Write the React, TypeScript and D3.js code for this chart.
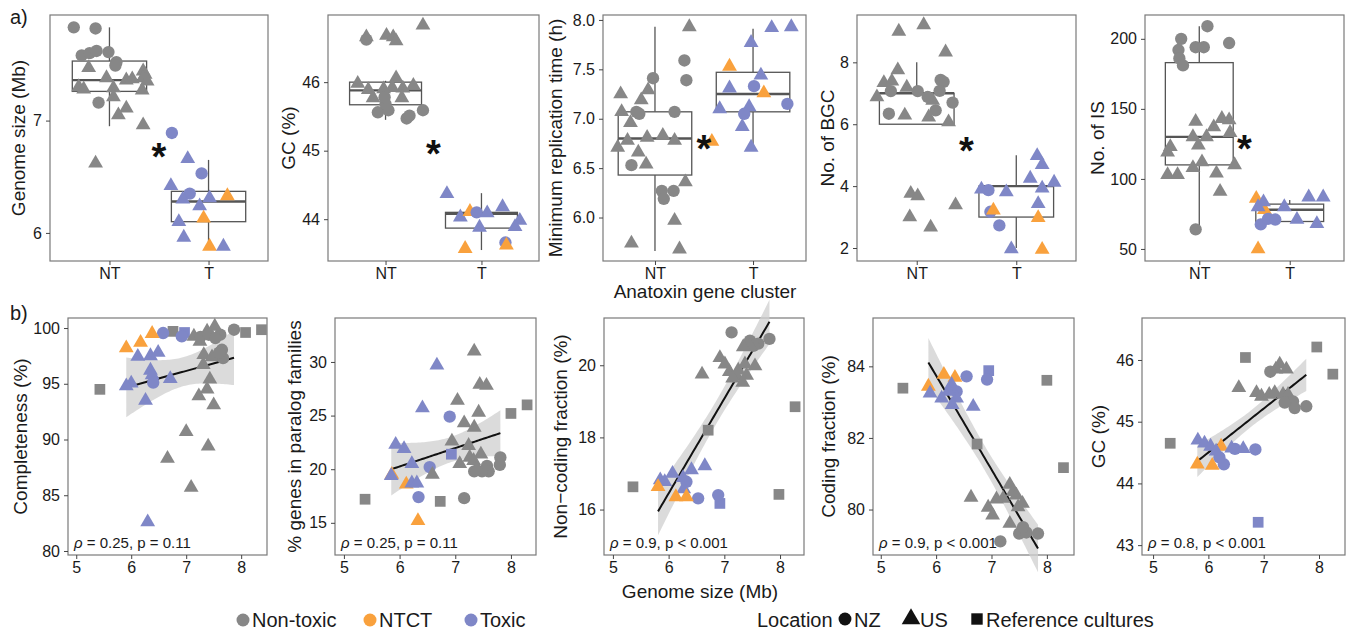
import React, { useEffect, useRef } from "react";
import * as d3 from "d3";

// colour keys: N = Non-toxic, C = NTCT, T = Toxic ; shapes: c = NZ, t = US, s = reference cultures
const COLORS: Record<string, string> = { N: "#878787", C: "#F9A13D", T: "#7F87C7" };
const categories = ["NT", "T"];

// top row points: [category index, colour, shape, jitter, value]
type BoxPt = [number, string, string, number, number];
// box stats: [lower whisker, q1, median, q3, upper whisker]
type Box = number[];

const genomeSizePts: BoxPt[] = [
  [0, "N", "c", -0.36, 7.83], [0, "N", "c", -0.14, 7.82], [0, "N", "c", -0.28, 7.58], [0, "N", "c", -0.2, 7.6],
  [0, "N", "c", -0.13, 7.62], [0, "N", "c", -0.01, 7.61], [0, "N", "c", 0.07, 7.52], [0, "N", "c", 0.06, 7.49],
  [0, "N", "t", -0.21, 7.47], [0, "N", "t", 0.34, 7.44], [0, "N", "t", 0.36, 7.41], [0, "N", "t", 0.34, 7.38],
  [0, "N", "t", 0.38, 7.35], [0, "N", "t", -0.03, 7.38], [0, "N", "t", 0.17, 7.36], [0, "N", "t", 0.23, 7.37],
  [0, "N", "t", -0.31, 7.3], [0, "N", "t", -0.26, 7.28], [0, "N", "t", 0.04, 7.29], [0, "N", "t", 0.33, 7.27],
  [0, "N", "t", 0.04, 7.21], [0, "N", "c", -0.11, 7.16], [0, "N", "t", 0.17, 7.11], [0, "N", "t", 0.09, 7.05],
  [0, "N", "t", 0.34, 6.96], [0, "N", "t", -0.14, 6.62],
  [1, "T", "c", -0.37, 6.89], [1, "T", "t", -0.21, 6.66], [1, "T", "c", -0.07, 6.53], [1, "T", "t", -0.38, 6.42],
  [1, "T", "c", -0.19, 6.35], [1, "T", "t", -0.26, 6.3], [1, "T", "t", 0.01, 6.31], [1, "C", "t", 0.19, 6.33],
  [1, "T", "t", -0.09, 6.24], [1, "C", "t", -0.05, 6.13], [1, "T", "t", -0.3, 6.1], [1, "T", "t", -0.25, 5.96],
  [1, "C", "t", 0.01, 5.88], [1, "T", "t", 0.15, 5.88],
];
const genomeSizeBox: Box[] = [[6.95, 7.26, 7.36, 7.53, 7.83], [5.86, 6.1, 6.28, 6.37, 6.65]];

const gcTopPts: BoxPt[] = [
  [0, "N", "c", -0.2, 46.62], [0, "N", "t", -0.2, 46.66], [0, "N", "t", 0.01, 46.68], [0, "N", "t", 0.08, 46.66],
  [0, "N", "t", 0.11, 46.6], [0, "N", "t", 0.39, 46.83], [0, "N", "t", -0.29, 45.98], [0, "N", "t", -0.18, 45.89],
  [0, "N", "t", 0.11, 46.06], [0, "N", "t", 0.18, 45.91], [0, "N", "t", 0.29, 45.95], [0, "N", "t", 0.07, 45.92],
  [0, "N", "t", -0.02, 45.9], [0, "N", "t", -0.13, 45.77], [0, "N", "t", 0.17, 45.77], [0, "N", "c", -0.08, 45.56],
  [0, "N", "c", 0.03, 45.59], [0, "N", "c", 0.0, 45.68], [0, "N", "c", 0.22, 45.47], [0, "N", "c", 0.25, 45.51],
  [0, "N", "c", 0.39, 45.59], [0, "N", "c", -0.01, 45.78],
  [1, "T", "t", -0.36, 44.37], [1, "T", "t", -0.22, 44.03], [1, "C", "t", -0.12, 44.11], [1, "T", "c", -0.05, 44.1],
  [1, "T", "t", 0.06, 44.09], [1, "T", "t", 0.22, 44.18], [1, "T", "t", 0.4, 43.98], [1, "T", "t", 0.35, 43.89],
  [1, "T", "t", -0.02, 43.88], [1, "T", "c", 0.25, 43.66], [1, "C", "t", 0.26, 43.62], [1, "C", "t", -0.17, 43.57],
];
const gcTopBox: Box[] = [[45.45, 45.67, 45.88, 46.0, 46.02], [43.55, 43.87, 44.08, 44.1, 44.38]];

const replicationPts: BoxPt[] = [
  [0, "N", "t", -0.35, 7.25], [0, "N", "t", -0.07, 7.29], [0, "N", "t", -0.14, 7.19], [0, "N", "c", -0.02, 7.41],
  [0, "N", "c", 0.3, 7.59], [0, "N", "c", 0.32, 7.39], [0, "N", "t", 0.35, 7.93], [0, "N", "t", -0.34, 7.07],
  [0, "N", "c", -0.19, 7.07], [0, "N", "c", -0.16, 7.05], [0, "N", "t", -0.25, 6.96], [0, "N", "t", -0.08, 6.81],
  [0, "N", "t", 0.08, 6.83], [0, "N", "c", 0.2, 7.07], [0, "N", "t", 0.2, 6.78], [0, "N", "t", -0.38, 6.71],
  [0, "N", "t", -0.28, 6.78], [0, "N", "t", -0.17, 6.66], [0, "N", "t", -0.09, 6.54], [0, "N", "c", -0.24, 6.53],
  [0, "N", "c", 0.07, 6.27], [0, "N", "c", 0.09, 6.19], [0, "N", "c", 0.19, 6.27], [0, "N", "t", 0.31, 6.36],
  [0, "N", "t", 0.2, 5.97], [0, "N", "t", -0.24, 5.74], [0, "N", "t", 0.25, 5.68],
  [1, "T", "t", 0.19, 7.92], [1, "T", "t", 0.39, 7.93], [1, "T", "t", -0.02, 7.77], [1, "C", "t", -0.24, 7.53],
  [1, "T", "t", -0.24, 7.31], [1, "T", "t", 0.08, 7.44], [1, "T", "c", 0.01, 7.33], [1, "C", "t", 0.11, 7.26],
  [1, "T", "t", -0.34, 7.1], [1, "T", "t", -0.04, 7.12], [1, "T", "c", -0.09, 7.05], [1, "T", "t", -0.11, 6.92],
  [1, "T", "t", -0.02, 6.71], [1, "T", "c", 0.35, 7.15], [1, "C", "t", -0.42, 6.77],
];
const replicationBox: Box[] = [[5.66, 6.43, 6.8, 7.07, 7.93], [6.72, 7.07, 7.25, 7.47, 7.91]];

const bgcPts: BoxPt[] = [
  [0, "N", "t", -0.18, 9.0], [0, "N", "t", 0.07, 9.21], [0, "N", "t", 0.29, 8.33], [0, "N", "t", -0.19, 7.75],
  [0, "N", "t", -0.33, 7.34], [0, "N", "t", -0.25, 7.39], [0, "N", "t", -0.4, 6.88], [0, "N", "t", -0.1, 7.19],
  [0, "N", "t", 0.16, 6.77], [0, "N", "t", -0.12, 6.29], [0, "N", "t", 0.12, 6.23], [0, "N", "t", 0.32, 6.07],
  [0, "N", "c", 0.24, 7.43], [0, "N", "c", 0.27, 7.37], [0, "N", "c", -0.26, 7.07], [0, "N", "c", 0.01, 7.07],
  [0, "N", "c", 0.11, 6.88], [0, "N", "c", 0.23, 7.08], [0, "N", "c", 0.19, 6.45], [0, "N", "c", 0.36, 6.7],
  [0, "N", "c", -0.28, 6.34], [0, "N", "t", -0.06, 3.76], [0, "N", "t", 0.01, 3.68], [0, "N", "t", -0.07, 3.0],
  [0, "N", "t", 0.14, 2.67], [0, "N", "t", 0.39, 3.39],
  [1, "T", "t", 0.21, 4.98], [1, "T", "t", 0.26, 4.69], [1, "T", "t", 0.14, 4.25], [1, "T", "t", 0.38, 4.12],
  [1, "T", "t", 0.26, 3.93], [1, "T", "t", -0.35, 3.9], [1, "T", "t", -0.1, 3.81], [1, "T", "t", 0.22, 3.43],
  [1, "T", "t", -0.05, 1.97], [1, "T", "c", -0.28, 3.87], [1, "T", "c", -0.26, 3.17], [1, "T", "c", -0.17, 2.73],
  [1, "C", "t", -0.23, 3.22], [1, "C", "t", 0.22, 2.98], [1, "C", "t", 0.26, 1.95],
];
const bgcBox: Box[] = [[6.0, 6.0, 7.0, 7.0, 8.0], [2.0, 3.0, 4.0, 4.0, 5.0]];

const isPts: BoxPt[] = [
  [0, "N", "c", 0.09, 209], [0, "N", "c", -0.2, 200], [0, "N", "c", -0.23, 192], [0, "N", "c", -0.22, 186],
  [0, "N", "c", -0.18, 181], [0, "N", "c", -0.04, 194], [0, "N", "c", 0.05, 194], [0, "N", "c", 0.33, 197],
  [0, "N", "c", -0.04, 64], [0, "N", "t", -0.04, 141], [0, "N", "t", 0.25, 143], [0, "N", "t", 0.33, 142],
  [0, "N", "t", 0.16, 137], [0, "N", "t", 0.34, 133], [0, "N", "t", -0.07, 130], [0, "N", "t", 0.08, 130],
  [0, "N", "t", -0.01, 124], [0, "N", "t", -0.32, 123], [0, "N", "t", -0.35, 119], [0, "N", "t", 0.03, 112],
  [0, "N", "t", -0.07, 108], [0, "N", "t", 0.39, 110], [0, "N", "t", -0.35, 103], [0, "N", "t", -0.24, 103],
  [0, "N", "t", 0.19, 104], [0, "N", "t", 0.23, 91],
  [1, "C", "t", -0.37, 86], [1, "C", "t", -0.28, 78], [1, "T", "t", -0.29, 83.5], [1, "T", "t", -0.35, 80],
  [1, "T", "t", -0.06, 80], [1, "T", "t", 0.21, 87], [1, "T", "t", 0.37, 87], [1, "T", "t", 0.08, 71],
  [1, "T", "t", 0.3, 68], [1, "T", "c", -0.32, 67.5], [1, "T", "c", -0.24, 71.5], [1, "T", "c", -0.16, 71],
  [1, "C", "t", -0.35, 50],
];
const isBox: Box[] = [[64, 110, 130, 183, 209], [69.6, 69.6, 78, 82, 85]];

// bottom row points: [colour, shape, genome size (Mb), value]
type ScPt = [string, string, number, number];

const completenessPts: ScPt[] = [
  ["N", "s", 5.43, 94.5], ["N", "s", 6.76, 99.7], ["N", "s", 8.08, 99.6], ["N", "s", 8.37, 99.85],
  ["T", "s", 6.97, 99.6], ["T", "c", 6.58, 99.55], ["T", "c", 6.92, 99.25],
  ["C", "t", 5.91, 98.2], ["C", "t", 6.17, 98.7], ["C", "t", 6.38, 99.5],
  ["T", "t", 6.12, 97.45], ["T", "t", 6.35, 97.5], ["T", "t", 6.49, 97.8], ["T", "t", 6.35, 96.2],
  ["T", "t", 6.38, 95.8], ["T", "c", 6.4, 95.1], ["T", "t", 6.0, 95.05], ["T", "t", 5.91, 94.8],
  ["T", "t", 6.71, 95.45], ["T", "t", 6.26, 93.5], ["T", "t", 6.3, 82.6],
  ["N", "t", 7.14, 99.25], ["N", "t", 7.25, 98.8], ["N", "t", 7.38, 99.7], ["N", "t", 7.52, 100.15],
  ["N", "t", 7.32, 97.6], ["N", "t", 7.31, 96.7], ["N", "t", 7.47, 97.4], ["N", "t", 7.43, 95.4],
  ["N", "t", 7.38, 94.5], ["N", "t", 7.23, 93.9], ["N", "t", 7.5, 93.1], ["N", "t", 7.0, 90.7],
  ["N", "t", 7.4, 89.4], ["N", "t", 6.66, 88.3], ["N", "t", 7.09, 85.7],
  ["N", "c", 7.26, 99.2], ["N", "c", 7.41, 99.4], ["N", "c", 7.62, 99.4], ["N", "c", 7.53, 99.1],
  ["N", "c", 7.65, 98.05], ["N", "c", 7.67, 97.3], ["N", "c", 7.87, 99.85], ["N", "c", 7.6, 97.8],
];

const paralogPts: ScPt[] = [
  ["N", "s", 5.38, 17.2], ["N", "s", 6.73, 17.0], ["N", "s", 8.0, 25.2], ["N", "s", 8.29, 26.0],
  ["T", "s", 6.93, 21.4], ["T", "c", 6.9, 24.9], ["T", "c", 6.54, 20.2], ["T", "c", 6.34, 17.4],
  ["N", "c", 7.16, 17.3], ["N", "c", 7.81, 21.1], ["N", "c", 7.8, 20.4], ["N", "c", 7.57, 20.3],
  ["N", "c", 7.6, 19.8], ["N", "c", 7.48, 19.8], ["N", "c", 7.34, 19.8],
  ["C", "t", 5.86, 19.5], ["C", "t", 6.12, 18.6], ["C", "t", 6.33, 15.2],
  ["T", "t", 6.67, 29.7], ["T", "t", 6.41, 25.7], ["T", "t", 5.93, 22.3], ["T", "t", 6.08, 21.9],
  ["T", "t", 6.22, 20.5], ["T", "t", 5.85, 19.4], ["T", "t", 6.22, 18.7], ["T", "t", 6.31, 18.7],
  ["N", "t", 7.34, 31.0], ["N", "t", 7.44, 27.9], ["N", "t", 7.56, 27.8], ["N", "t", 7.04, 26.4],
  ["N", "t", 7.42, 25.3], ["N", "t", 7.16, 24.3], ["N", "t", 7.34, 23.9], ["N", "t", 6.94, 22.6],
  ["N", "t", 7.24, 22.2], ["N", "t", 7.46, 21.4], ["N", "t", 7.26, 21.1], ["N", "t", 7.33, 20.8],
  ["N", "t", 7.08, 20.5], ["N", "t", 6.59, 19.5], ["N", "t", 7.39, 20.1],
];

const nonCodingPts: ScPt[] = [
  ["N", "s", 5.36, 16.63], ["N", "s", 6.71, 18.2], ["N", "s", 7.98, 16.42], ["N", "s", 8.27, 18.85],
  ["T", "s", 6.92, 16.17], ["T", "c", 6.89, 16.4], ["T", "c", 6.53, 16.31], ["T", "c", 6.32, 16.77],
  ["N", "c", 7.13, 20.91], ["N", "c", 7.46, 20.68], ["N", "c", 7.61, 20.6], ["N", "c", 7.81, 20.73],
  ["N", "c", 7.52, 20.54],
  ["N", "t", 6.6, 19.75], ["N", "t", 6.92, 20.21], ["N", "t", 7.01, 20.03], ["N", "t", 7.09, 19.82],
  ["N", "t", 7.22, 19.7], ["N", "t", 7.33, 19.52], ["N", "t", 7.25, 19.86], ["N", "t", 7.4, 19.72],
  ["N", "t", 7.55, 19.98], ["N", "t", 7.46, 20.54], ["N", "t", 7.34, 20.51], ["N", "t", 7.37, 20.03],
  ["N", "t", 7.15, 19.64],
  ["T", "t", 5.85, 16.82], ["T", "t", 5.93, 16.77], ["T", "t", 6.07, 17.0], ["T", "t", 6.26, 16.88],
  ["T", "t", 6.41, 17.1], ["T", "t", 6.65, 17.21], ["T", "t", 6.27, 16.57],
  ["C", "t", 5.81, 16.63], ["C", "t", 6.13, 16.35], ["C", "t", 6.32, 16.35],
];

const codingPts: ScPt[] = [
  ["N", "s", 5.4, 83.39], ["N", "s", 6.74, 81.83], ["N", "s", 8.0, 83.61], ["N", "s", 8.3, 81.17],
  ["T", "s", 6.95, 83.88], ["T", "c", 6.92, 83.63], ["T", "c", 6.55, 83.72], ["T", "c", 6.37, 83.3],
  ["C", "t", 5.86, 83.44], ["C", "t", 6.14, 83.77], ["C", "t", 6.34, 83.69],
  ["T", "t", 5.89, 83.25], ["T", "t", 6.1, 83.11], ["T", "t", 6.28, 83.49], ["T", "t", 6.37, 83.11],
  ["T", "t", 6.67, 82.88], ["T", "t", 6.22, 83.3], ["T", "t", 6.29, 82.93],
  ["N", "t", 6.63, 80.34], ["N", "t", 6.94, 80.06], ["N", "t", 7.02, 79.84], ["N", "t", 7.33, 80.7],
  ["N", "t", 7.39, 80.5], ["N", "t", 7.45, 80.4], ["N", "t", 7.48, 80.07], ["N", "t", 7.56, 80.17],
  ["N", "t", 7.33, 79.61], ["N", "t", 7.21, 80.31], ["N", "t", 7.09, 80.29],
  ["N", "c", 7.16, 79.11], ["N", "c", 7.5, 79.33], ["N", "c", 7.63, 79.36], ["N", "c", 7.84, 79.33],
  ["N", "c", 7.57, 79.51],
];

const gcBottomPts: ScPt[] = [
  ["N", "s", 5.31, 44.65], ["N", "s", 6.67, 46.04], ["N", "s", 7.96, 46.21], ["N", "s", 8.25, 45.77],
  ["T", "s", 6.9, 43.37], ["T", "c", 6.85, 44.55], ["T", "c", 6.48, 44.56], ["T", "c", 6.28, 44.31],
  ["T", "c", 6.2, 44.42],
  ["C", "t", 5.8, 44.31], ["C", "t", 6.07, 44.29], ["C", "t", 6.23, 44.6],
  ["T", "t", 5.81, 44.7], ["T", "t", 5.93, 44.65], ["T", "t", 6.04, 44.6], ["T", "t", 6.42, 44.57],
  ["T", "t", 6.63, 44.56], ["T", "t", 6.14, 44.52],
  ["N", "t", 6.55, 45.55], ["N", "t", 6.87, 45.47], ["N", "t", 6.96, 45.41], ["N", "t", 7.1, 45.44],
  ["N", "t", 7.29, 45.93], ["N", "t", 7.41, 45.85], ["N", "t", 7.22, 45.85], ["N", "t", 7.2, 45.47],
  ["N", "t", 7.35, 45.44], ["N", "t", 7.44, 45.44],
  ["N", "c", 7.12, 45.81], ["N", "c", 7.53, 45.33], ["N", "c", 7.56, 45.22], ["N", "c", 7.77, 45.25],
  ["N", "c", 7.38, 45.31],
];

const corrLabels = [["0.25", "= 0.11"], ["0.25", "= 0.11"], ["0.9", "< 0.001"], ["0.9", "< 0.001"], ["0.8", "< 0.001"]];
const genomeTicks = [5, 6, 7, 8];
const legendColour = [["N", "Non-toxic"], ["C", "NTCT"], ["T", "Toxic"]];
const legendShape = [["c", "NZ"], ["t", "US"], ["s", "Reference cultures"]];

const W = 1350;
const H = 633;
const FONT = "'Liberation Sans', Arial, Helvetica, sans-serif";

const topPanels = [
  { title: "Genome size (Mb)", pts: genomeSizePts, box: genomeSizeBox, y: [5.75, 7.94], ticks: [6, 7], fmt: "d", sig: 6.75, x0: 50, x1: 268, tx: 18, xd: [0.4, 2.6] },
  { title: "GC (%)", pts: gcTopPts, box: gcTopBox, y: [43.39, 46.98], ticks: [44, 45, 46], fmt: "d", sig: 45.07, x0: 328, x1: 539, tx: 288, xd: [0.4, 2.6] },
  { title: "Minimum replication time (h)", pts: replicationPts, box: replicationBox, y: [5.56, 8.05], ticks: [6, 6.5, 7, 7.5, 8], fmt: ".1f", sig: 6.77, x0: 603, x1: 806, tx: 555, xd: [0.47, 2.54] },
  { title: "No. of BGC", pts: bgcPts, box: bgcBox, y: [1.58, 9.53], ticks: [2, 4, 6, 8], fmt: "d", sig: 5.4, x0: 857, x1: 1076, tx: 827, xd: [0.4, 2.6] },
  { title: "No. of IS", pts: isPts, box: isBox, y: [41.4, 217], ticks: [50, 100, 150, 200], fmt: "d", sig: 127, x0: 1145, x1: 1344, tx: 1097, xd: [0.4, 2.6] },
];

const bottomPanels = [
  { title: "Completeness (%)", pts: completenessPts, y: [79.64, 100.9], ticks: [80, 85, 90, 95, 100], x: [4.85, 8.47], x0: 68, x1: 267, tx: 20 },
  { title: "% genes in paralog families", pts: paralogPts, y: [12.0, 34.1], ticks: [15, 20, 25, 30], x: [4.84, 8.45], x0: 335, x1: 536, tx: 294 },
  { title: "Non\u2212coding fraction (%)", pts: nonCodingPts, y: [14.74, 21.31], ticks: [16, 18, 20], x: [4.84, 8.43], x0: 604, x1: 804, tx: 560 },
  { title: "Coding fraction (%)", pts: codingPts, y: [78.73, 85.35], ticks: [80, 82, 84], x: [4.86, 8.49], x0: 873, x1: 1074, tx: 828 },
  { title: "GC (%)", pts: gcBottomPts, y: [42.84, 46.68], ticks: [43, 44, 45, 46], x: [4.8, 8.47], x0: 1142, x1: 1345, tx: 1098 },
];

const symbolFor = (s: string) => (s === "c" ? d3.symbolCircle : s === "t" ? d3.symbolTriangle : d3.symbolSquare);
const sizeFor = (s: string) => (s === "c" ? 120 : s === "t" ? 95 : 115);

// least squares fit with 95% confidence band (reference cultures excluded)
function fitLine(pts: ScPt[]) {
  const p = pts.filter(d => d[1] !== "s");
  const n = p.length;
  const mx = d3.mean(p, d => d[2])!;
  const my = d3.mean(p, d => d[3])!;
  const sxx = d3.sum(p, d => (d[2] - mx) ** 2);
  const sxy = d3.sum(p, d => (d[2] - mx) * (d[3] - my));
  const b = sxy / sxx;
  const a = my - b * mx;
  const s = Math.sqrt(d3.sum(p, d => (d[3] - a - b * d[2]) ** 2) / (n - 2));
  const t = 1.96 + 2.5 / (n - 2);
  const [lo, hi] = d3.extent(p, d => d[2]) as [number, number];
  return d3.range(61).map(i => {
    const x = lo + ((hi - lo) * i) / 60;
    const se = s * Math.sqrt(1 / n + (x - mx) ** 2 / sxx);
    const y = a + b * x;
    return { x, y, y0: y - t * se, y1: y + t * se };
  });
}

function styleAxis(g: any) {
  g.select(".domain").remove();
  g.selectAll(".tick line").attr("stroke", "#444").attr("stroke-width", 1);
  g.selectAll(".tick text").attr("fill", "#1a1a1a").attr("font-size", 16).attr("font-family", FONT);
}

export default function App() {
  const ref = useRef<SVGSVGElement>(null);

  useEffect(() => {
    const svg = d3.select(ref.current);
    svg.selectAll("*").remove();

    const T0 = 15, T1 = 261;
    topPanels.forEach(p => {
      const x = d3.scaleLinear().domain(p.xd).range([p.x0, p.x1]);
      const y = d3.scaleLinear().domain(p.y).range([T1, T0]);
      const g = svg.append("g");
      g.append("rect").attr("x", p.x0).attr("y", T0).attr("width", p.x1 - p.x0).attr("height", T1 - T0)
        .attr("fill", "none").attr("stroke", "#7a7a7a").attr("stroke-width", 1.2);

      const yAx = g.append("g").attr("transform", `translate(${p.x0},0)`)
        .call(d3.axisLeft(y).tickValues(p.ticks).tickSize(4).tickPadding(4).tickFormat(d3.format(p.fmt)));
      styleAxis(yAx);
      const xAx = g.append("g").attr("transform", `translate(0,${T1})`)
        .call(d3.axisBottom(x).tickValues([1, 2]).tickSize(4).tickPadding(3).tickFormat((d: any) => categories[d - 1]));
      styleAxis(xAx);

      const bw = 0.375 * (x(2) - x(1));
      p.box.forEach((b, i) => {
        const cx = x(i + 1);
        const bg = g.append("g").attr("stroke", "#555").attr("fill", "none");
        bg.append("line").attr("x1", cx).attr("x2", cx).attr("y1", y(b[4])).attr("y2", y(b[3])).attr("stroke-width", 1.3);
        bg.append("line").attr("x1", cx).attr("x2", cx).attr("y1", y(b[1])).attr("y2", y(b[0])).attr("stroke-width", 1.3);
        bg.append("rect").attr("x", cx - bw).attr("width", 2 * bw).attr("y", y(b[3])).attr("height", y(b[1]) - y(b[3]))
          .attr("fill", "#fff").attr("stroke-width", 1.3);
        bg.append("line").attr("x1", cx - bw).attr("x2", cx + bw).attr("y1", y(b[2])).attr("y2", y(b[2])).attr("stroke-width", 2.4);
      });

      g.selectAll(".pt").data(p.pts).enter().append("path")
        .attr("d", d => d3.symbol().type(symbolFor(d[2])).size(sizeFor(d[2]))()!)
        .attr("transform", d => `translate(${x(d[0] + 1 + d[3])},${y(d[4])})`)
        .attr("fill", d => COLORS[d[1]]);

      g.append("text").attr("x", x(1.5)).attr("y", y(p.sig) + 21).attr("text-anchor", "middle")
        .attr("font-family", FONT).attr("font-weight", "bold").attr("font-size", 38).attr("fill", "#111").text("*");

      g.append("text").attr("transform", `translate(${p.tx},${(T0 + T1) / 2}) rotate(-90)`).attr("dy", "0.35em")
        .attr("text-anchor", "middle").attr("font-family", FONT).attr("font-size", 19).attr("fill", "#1a1a1a").text(p.title);
    });

    const B0 = 318, B1 = 555;
    bottomPanels.forEach((p, k) => {
      const x = d3.scaleLinear().domain(p.x).range([p.x0, p.x1]);
      const y = d3.scaleLinear().domain(p.y).range([B1, B0]);
      const g = svg.append("g");
      g.append("rect").attr("x", p.x0).attr("y", B0).attr("width", p.x1 - p.x0).attr("height", B1 - B0)
        .attr("fill", "none").attr("stroke", "#7a7a7a").attr("stroke-width", 1.2);

      const yAx = g.append("g").attr("transform", `translate(${p.x0},0)`)
        .call(d3.axisLeft(y).tickValues(p.ticks).tickSize(4).tickPadding(4).tickFormat(d3.format("d")));
      styleAxis(yAx);
      const xAx = g.append("g").attr("transform", `translate(0,${B1})`)
        .call(d3.axisBottom(x).tickValues(genomeTicks).tickSize(4).tickPadding(3).tickFormat(d3.format("d")));
      styleAxis(xAx);

      const fit = fitLine(p.pts);
      g.append("path").datum(fit).attr("fill", "#cfcfcf").attr("opacity", 0.75)
        .attr("d", d3.area<any>().x(d => x(d.x)).y0(d => y(d.y0)).y1(d => y(d.y1)));
      g.append("path").datum(fit).attr("fill", "none").attr("stroke", "#111").attr("stroke-width", 2)
        .attr("d", d3.line<any>().x(d => x(d.x)).y(d => y(d.y)));

      g.selectAll(".pt").data(p.pts).enter().append("path")
        .attr("d", d => d3.symbol().type(symbolFor(d[1])).size(sizeFor(d[1]))()!)
        .attr("transform", d => `translate(${x(d[2])},${y(d[3])})`)
        .attr("fill", d => COLORS[d[0]]);

      const lab = g.append("text").attr("x", p.x0 + 6).attr("y", B1 - 7)
        .attr("font-family", FONT).attr("font-size", 15).attr("fill", "#1a1a1a");
      lab.append("tspan").attr("font-style", "italic").text("\u03c1");
      lab.append("tspan").text(` = ${corrLabels[k][0]}, p ${corrLabels[k][1]}`);

      g.append("text").attr("transform", `translate(${p.tx},${(B0 + B1) / 2}) rotate(-90)`).attr("dy", "0.35em")
        .attr("text-anchor", "middle").attr("font-family", FONT).attr("font-size", 19).attr("fill", "#1a1a1a").text(p.title);
    });

    const txt = (x: number, y: number, s: string, size = 19, anchor = "middle") =>
      svg.append("text").attr("x", x).attr("y", y).attr("text-anchor", anchor).attr("font-family", FONT)
        .attr("font-size", size).attr("fill", "#1a1a1a").text(s);

    txt(705, 298, "Anatoxin gene cluster");
    txt(700, 598, "Genome size (Mb)");
    txt(10, 24, "a)", 20, "start");
    txt(10, 320, "b)", 20, "start");

    // legend
    const LY = 620;
    const cx = [243, 370, 471];
    legendColour.forEach((d, i) => {
      svg.append("circle").attr("cx", cx[i]).attr("cy", LY).attr("r", 6.5).attr("fill", COLORS[d[0]]);
      txt(cx[i] + 9, LY + 7, d[1], 20, "start");
    });
    txt(757, LY + 7, "Location", 20, "start");
    const sx = [845, 911, 977];
    legendShape.forEach((d, i) => {
      svg.append("path").attr("d", d3.symbol().type(symbolFor(d[0])).size(d[0] === "t" ? 150 : 130)()!)
        .attr("transform", `translate(${sx[i]},${LY - 1})`).attr("fill", "#111");
      txt(sx[i] + 9, LY + 7, d[1], 20, "start");
    });
  }, []);

  return (
    <svg ref={ref} width={W} height={H} style={{ position: "absolute", left: 0, top: 0, background: "#fff" }} />
  );
}
